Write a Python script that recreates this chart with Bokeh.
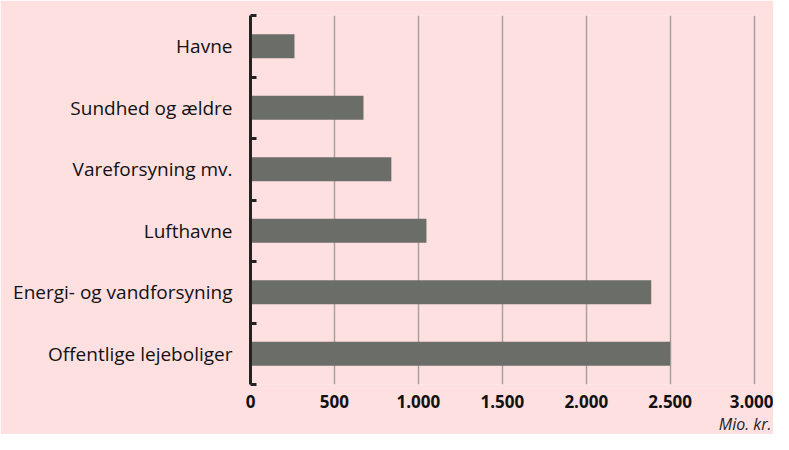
from bokeh.plotting import figure
from bokeh.models import Range1d, FixedTicker, Title
from bokeh.embed import file_html
from bokeh.resources import INLINE

# Data (top-to-bottom as shown in the chart)
categories = ["Havne", "Sundhed og ældre", "Vareforsyning mv.", "Lufthavne",
              "Energi- og vandforsyning", "Offentlige lejeboliger"]
values = [262, 673, 839, 1048, 2387, 2500]
x_ticks = [0, 500, 1000, 1500, 2000, 2500, 3000]
x_tick_labels = ["0", "500", "1.000", "1.500", "2.000", "2.500", "3.000"]
unit_label = "Mio. kr."

BG = "#FFE0E1"
BAR = "#6B6D68"
FONT = "Open Sans"

n = len(categories)
# bottom-most category at lowest position
ypos = [n - 1 - i + 0.5 for i in range(n)]

p = figure(width=773, height=434, output_backend="svg", toolbar_location=None,
           x_range=Range1d(0, 3020), y_range=Range1d(0, n),
           min_border_left=250, min_border_right=16, min_border_top=15, min_border_bottom=40)
p.background_fill_color = BG
p.border_fill_color = BG
p.outline_line_color = None

p.hbar(y=ypos, right=values, left=0, height=0.39, fill_color=BAR, line_color=None)

# x axis
p.xaxis.ticker = FixedTicker(ticks=x_ticks, minor_ticks=[])
p.xaxis.major_label_overrides = {float(t): l for t, l in zip(x_ticks, x_tick_labels)}
p.xaxis.axis_line_color = None
p.xaxis.major_tick_line_color = None
p.xaxis.minor_tick_line_color = None
p.xaxis.major_label_standoff = 4
p.xaxis.major_label_text_font = FONT
p.xaxis.major_label_text_font_style = "bold"
p.xaxis.major_label_text_font_size = "17px"
p.xaxis.major_label_text_color = "#111111"

# y axis
p.yaxis.ticker = FixedTicker(ticks=ypos, minor_ticks=[float(i) for i in range(n + 1)])
p.yaxis.major_label_overrides = {float(y): c for y, c in zip(ypos, categories)}
p.yaxis.axis_line_color = "#222222"
p.yaxis.axis_line_width = 3
p.yaxis.major_tick_line_color = None
p.yaxis.minor_tick_line_color = "#222222"
p.yaxis.minor_tick_line_width = 3
p.yaxis.minor_tick_in = 6
p.yaxis.minor_tick_out = 0
p.yaxis.major_label_standoff = 12
p.yaxis.major_label_text_font = FONT
p.yaxis.major_label_text_font_size = "19px"
p.yaxis.major_label_text_color = "#111111"

# grids
p.ygrid.grid_line_color = None
p.xgrid.ticker = FixedTicker(ticks=x_ticks)
p.xgrid.grid_line_color = "#A6A2A2"
p.xgrid.grid_line_width = 1.5

p.add_layout(Title(text=unit_label, align="right", offset=-14, standoff=0,
                   text_font=FONT, text_font_style="italic", text_font_size="16px",
                   text_color="#222222"), "below")

open("out.html", "w").write(file_html(p, INLINE))
